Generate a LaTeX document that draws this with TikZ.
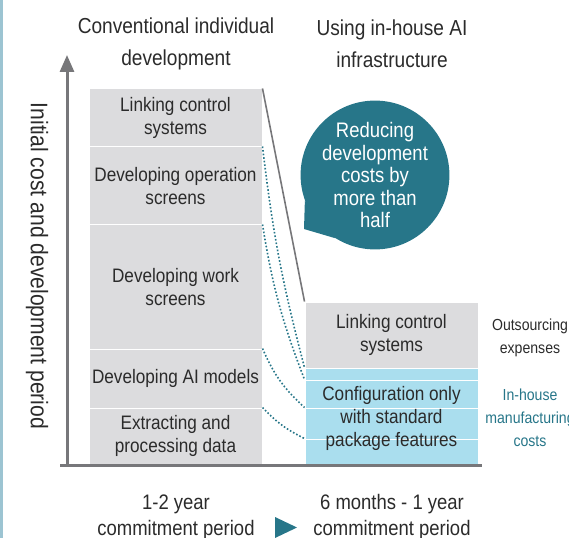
\documentclass[tikz,border=0pt]{standalone}
\usepackage{fontspec}
\setmainfont{Liberation Sans}[FakeStretch=0.88]
\usepackage{tikz}
\usetikzlibrary{arrows.meta,positioning,shapes.geometric}
\definecolor{infteal}{HTML}{277689}
\definecolor{infgray}{HTML}{DCDCDE}
\definecolor{infblue}{HTML}{AADEEE}
\definecolor{infaxis}{HTML}{77777A}
\definecolor{inftext}{HTML}{2B2B2B}
\definecolor{infedge}{HTML}{9CC4D2}

\begin{document}
\begin{tikzpicture}[x=1bp,y=-1bp,
    every node/.style={text=inftext,align=center},
    blk/.style={draw=white,line width=1bp,inner sep=0pt,minimum width=173bp,
      font=\fontsize{19.5bp}{23bp}\selectfont},
    grayblk/.style={blk,fill=infgray},
    blueblk/.style={blk,fill=infblue},
    title/.style={font=\fontsize{21.7bp}{32bp}\selectfont},
    link/.style={infteal,dotted,line width=1.6bp}]
        \useasboundingbox (0,0) rectangle (569,538);
        \clip (0,0) rectangle (569,538);
        \draw[infedge,line width=3bp] (1.5,0) -- (1.5,538);

        % Headings
        \node[title] (hconv) at (176,44) {Conventional individual\\development};
        \node[title] (hai) at (392,44) {Using in-house AI\\infrastructure};
        \node[title,rotate=-90,font=\fontsize{24bp}{30bp}\selectfont] (ylab) at (37,266)
          {Initial cost and development period};

        % Conventional stack
        \node[grayblk,minimum height=58bp] (lcs) at (175.5,118) {Linking control\\systems};
        \node[grayblk,minimum height=78bp] (ops) at (175.5,186) {Developing operation\\screens};
        \node[grayblk,minimum height=124bp] (work) at (175.5,287) {Developing work\\screens};
        \node[grayblk,minimum height=59bp] (aim) at (175.5,378.5) {Developing AI models};
        \node[grayblk,minimum height=56bp] (data) at (175.5,436) {Extracting and\\processing data};

        % In-house stack
        \node[grayblk,minimum height=66bp] (rlcs) at (391.5,335) {Linking control\\systems};
        \node[blueblk,minimum height=12bp] (b1) at (391.5,374) {};
        \node[blueblk,minimum height=28bp] (b2) at (391.5,394) {};
        \node[blueblk,minimum height=31bp] (b3) at (391.5,423.5) {};
        \node[blueblk,minimum height=26bp] (b4) at (391.5,452) {};
        \node[font=\fontsize{19.5bp}{23bp}\selectfont] (cfg) at (391.5,418)
          {Configuration only\\with standard\\package features};

        % Axes
        \draw[infaxis,line width=3bp] (60,465) -- (482,465);
        \draw[infaxis,line width=3bp,-{Triangle[length=17bp,width=14bp]}]
          (67,466.5) -- (67,55);

        % Connectors
        \draw[infaxis,line width=1.6bp] (lcs.north east) -- (rlcs.north west);
        \draw[link] (ops.north east) to[bend right=4] (b1.north west);
        \draw[link] (work.north east) to[bend right=6] (b2.north west);
        \draw[link] (aim.north east) to[bend right=12] (b3.north west);
        \draw[link] (data.north east) to[bend right=10] (b4.north west);

        % Bubble
        \node[circle,fill=infteal,minimum size=148bp,inner sep=0pt,text=white,
          font=\fontsize{21bp}{22.5bp}\selectfont] (bub) at (375,175)
          {Reducing\\development\\costs by\\more than\\half};
        \coordinate (tip) at (304,229);
        \fill[infteal] (bub.200) -- (tip) -- (bub.238) -- cycle;

        % Cost labels
        \node[font=\fontsize{16bp}{23bp}\selectfont] (outs) at (530,338)
          {Outsourcing\\expenses};
        \node[font=\fontsize{16bp}{23bp}\selectfont,text=infteal] (inh) at (530,418)
          {In-house\\manufacturing\\costs};

        % Periods
        \node[title,font=\fontsize{21bp}{26bp}\selectfont] (p1) at (176,517)
          {1-2 year\\commitment period};
        \node[title,font=\fontsize{21bp}{26bp}\selectfont] (p2) at (392,517)
          {6 months - 1 year\\commitment period};
        \fill[infteal] (275,517) -- (297,527.5) -- (275,538) -- cycle;
      \end{tikzpicture}
\end{document}
